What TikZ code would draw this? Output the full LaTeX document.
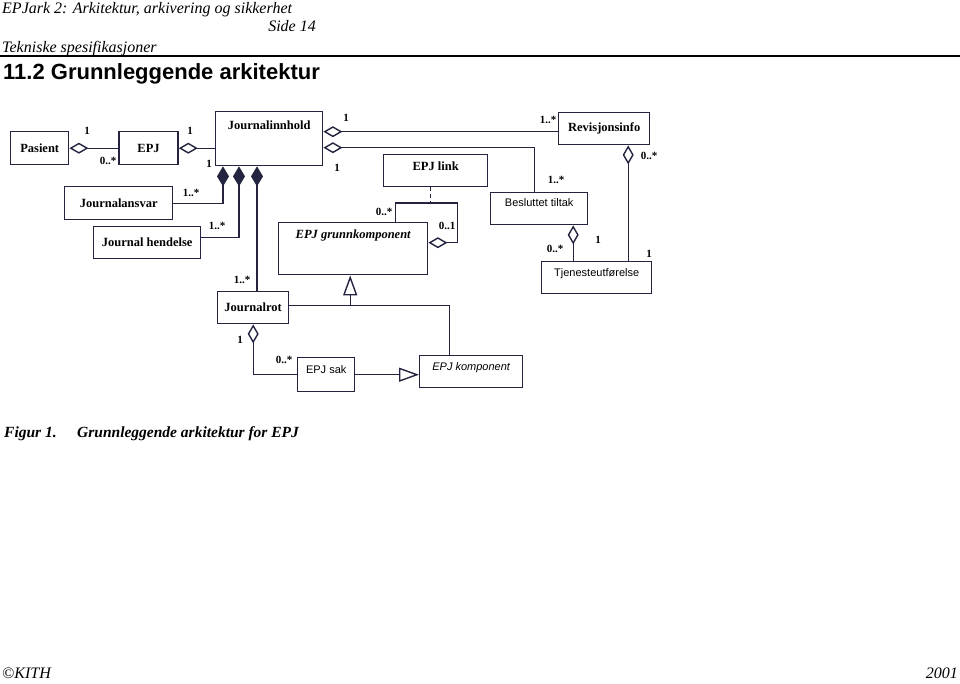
\documentclass[tikz,border=0pt]{standalone}
\usepackage{fontspec}
\setmainfont{Liberation Serif}
\setsansfont{Liberation Sans}
\usepackage{tikz}
\usetikzlibrary{positioning}
\usetikzlibrary{arrows.meta}
\definecolor{umlline}{RGB}{36,36,64}

\begin{document}
\begin{tikzpicture}[
                          x=1pt, y=-1pt,
                          classbox/.style={rectangle, draw=umlline, line width=1.4pt, anchor=north west, inner sep=0pt, font=\fontsize{12.5}{14}\selectfont\bfseries},
                          sansbox/.style={classbox, font=\fontsize{11}{13}\selectfont\sffamily},
                          mult/.style={inner sep=0pt, font=\fontsize{11}{13}\selectfont\bfseries},
                          line/.style={draw=umlline, line width=1.4pt},
                          aggr/.style={line, arrows={Diamond[open, length=19pt, width=11pt]-}},
                          comp/.style={line, arrows={Diamond[length=20pt, width=12pt]-}},
                          inherit/.style={line, arrows={-Triangle[open, length=20pt, width=14pt]}},
                          pagetext/.style={anchor=base west, inner sep=0pt, font=\fontsize{16}{18}\selectfont\itshape},
                      ]
                      \useasboundingbox (0,0) rectangle (960,683);

                      %Page text
                      \node[pagetext]                   (doc_title)   at (2,13)    {EPJark 2: Arkitektur, arkivering og sikkerhet};
                      \node[pagetext, anchor=base east] (page_no)     at (316,31)  {Side 14};
                      \node[pagetext]                   (chapter)     at (2,52)    {Tekniske spesifikasjoner};
                      \draw[line width=1.3pt] (0,56) -- (960,56);
                      \node[anchor=base west, inner sep=0pt, font=\fontsize{22}{24}\selectfont\sffamily\bfseries]
                                                        (section)     at (3,79.5)  {11.2 Grunnleggende arkitektur};

                      %Nodes
                      \node[classbox, minimum width=58pt, minimum height=33pt]   (pasient)            at (10,131)    {Pasient};
                      \node[classbox, minimum width=59pt, minimum height=33pt]   (epj)                [right=49pt of pasient]  {EPJ};
                      \node[classbox, minimum width=107pt, text height=18pt, text depth=36pt]
                                                                                 (journalinnhold)     at (215,111)   {Journalinnhold};
                      \node[classbox, minimum width=108pt, minimum height=33pt]  (journalansvar)      at (64,186)    {Journalansvar};
                      \node[classbox, minimum width=107pt, minimum height=32pt]  (journal_hendelse)   at (93,226)    {Journal hendelse};
                      \node[classbox, minimum width=71pt, minimum height=32pt]   (journalrot)         at (217,291)   {Journalrot};
                      \node[classbox, minimum width=149pt, text height=16pt, text depth=36pt, font=\fontsize{12.5}{14}\selectfont\bfseries\itshape]
                                                                                 (epj_grunnkomponent) at (278,222)   {EPJ grunnkomponent};
                      \node[classbox, minimum width=104pt, text height=16pt, text depth=16pt]
                                                                                 (epj_link)           at (383,154)   {EPJ link};
                      \node[classbox, minimum width=91pt, minimum height=32pt]   (revisjonsinfo)      at (558,112)   {Revisjonsinfo};
                      \node[sansbox, minimum width=97pt, text height=14pt, text depth=18pt]
                                                                                 (besluttet_tiltak)   at (490,192)   {Besluttet tiltak};
                      \node[sansbox, minimum width=110pt, text height=15pt, text depth=17pt]
                                                                                 (tjenesteutforelse)  at (541,261)   {Tjenesteutførelse};
                      \node[sansbox, minimum width=57pt, text height=16pt, text depth=18pt]
                                                                                 (epj_sak)            at (297,357)   {EPJ sak};
                      \node[sansbox, minimum width=103pt, text height=15pt, text depth=17pt, font=\fontsize{11}{13}\selectfont\sffamily\itshape]
                                                                                 (epj_komponent)      at (419,355)   {EPJ komponent};

                      %Lines
                      \draw[aggr] (pasient.east) -- (pasient.east -| epj.west);
                      \draw[aggr] (epj.east) -- (epj.east -| journalinnhold.west);
                      \draw[comp] ([xshift=8pt]journalinnhold.south west) |- (journalansvar.east);
                      \draw[comp] ([xshift=24pt]journalinnhold.south west) |- ([yshift=5pt]journal_hendelse.east);
                      \draw[comp] ([xshift=42pt]journalinnhold.south west) -- ([xshift=42pt]journalinnhold.south west |- journalrot.north);
                      \draw[aggr] ([yshift=-3pt]revisjonsinfo.west -| journalinnhold.east) -- ([yshift=-3pt]revisjonsinfo.west);
                      \draw[aggr] ([yshift=-9pt]journalinnhold.east) -| ([xshift=-5pt]besluttet_tiltak.north);
                      \coordinate (loop_top) at ([xshift=42pt, yshift=19pt]epj_grunnkomponent.north);
                      \draw[aggr] ([yshift=6pt]epj_grunnkomponent.east) -- ++(29pt,0) |- (loop_top) -- ([xshift=42pt]epj_grunnkomponent.north);
                      \draw[line, dash pattern=on 4pt off 3pt] ([xshift=-5pt]epj_link.south) -- ([xshift=-5pt]epj_link.south |- loop_top);
                      \coordinate (gen_joint) at ([xshift=-3pt, yshift=2pt]journalrot.east -| epj_grunnkomponent.south);
                      \draw[inherit] (gen_joint) -- (gen_joint |- epj_grunnkomponent.south);
                      \draw[line] ([yshift=2pt]journalrot.east) -| ([xshift=-22pt]epj_komponent.north);
                      \draw[aggr] (journalrot.south) |- (epj_sak.west);
                      \draw[inherit] (epj_sak.east) -- (epj_sak.east -| epj_komponent.west);
                      \draw[aggr] ([xshift=24pt]revisjonsinfo.south) -- ([xshift=24pt]revisjonsinfo.south |- tjenesteutforelse.north);
                      \draw[aggr] ([xshift=34pt]besluttet_tiltak.south) -- ([xshift=34pt]besluttet_tiltak.south |- tjenesteutforelse.north);

                      %Multiplicities
                      \node[mult] (m_pasient)        at (87,131)  {1};
                      \node[mult] (m_epj_p)          at (108,161) {0..*};
                      \node[mult] (m_epj)            at (190,131) {1};
                      \node[mult] (m_innhold_e)      at (209,164) {1};
                      \node[mult] (m_ansvar)         at (191,193) {1..*};
                      \node[mult] (m_hendelse)       at (217,226) {1..*};
                      \node[mult] (m_rot)            at (242,280) {1..*};
                      \node[mult] (m_innhold_r)      at (346,118) {1};
                      \node[mult] (m_revisjon)       at (548,120) {1..*};
                      \node[mult] (m_innhold_b)      at (337,168) {1};
                      \node[mult] (m_besluttet)      at (556,180) {1..*};
                      \node[mult] (m_grunn_many)     at (384,212) {0..*};
                      \node[mult] (m_grunn_opt)      at (447,226) {0..1};
                      \node[mult] (m_revisjon_t)     at (649,156) {0..*};
                      \node[mult] (m_tjeneste_r)     at (649,254) {1};
                      \node[mult] (m_besluttet_t)    at (555,249) {0..*};
                      \node[mult] (m_tjeneste_b)     at (598,240) {1};
                      \node[mult] (m_rot_sak)        at (240,340) {1};
                      \node[mult] (m_sak)            at (284,360) {0..*};

                      %Caption and footer
                      \node[pagetext, font=\fontsize{15.5}{17}\selectfont\bfseries\itshape] (fig_no)  at (4,437)  {Figur 1.};
                      \node[pagetext, font=\fontsize{15.5}{17}\selectfont\bfseries\itshape] (fig_cap) at (77,437) {Grunnleggende arkitektur for EPJ};
                      \node[pagetext]                   (copyright)   at (2,678)   {©KITH};
                      \node[pagetext, anchor=base east] (year)        at (958,678) {2001};
                  \end{tikzpicture}
\end{document}
